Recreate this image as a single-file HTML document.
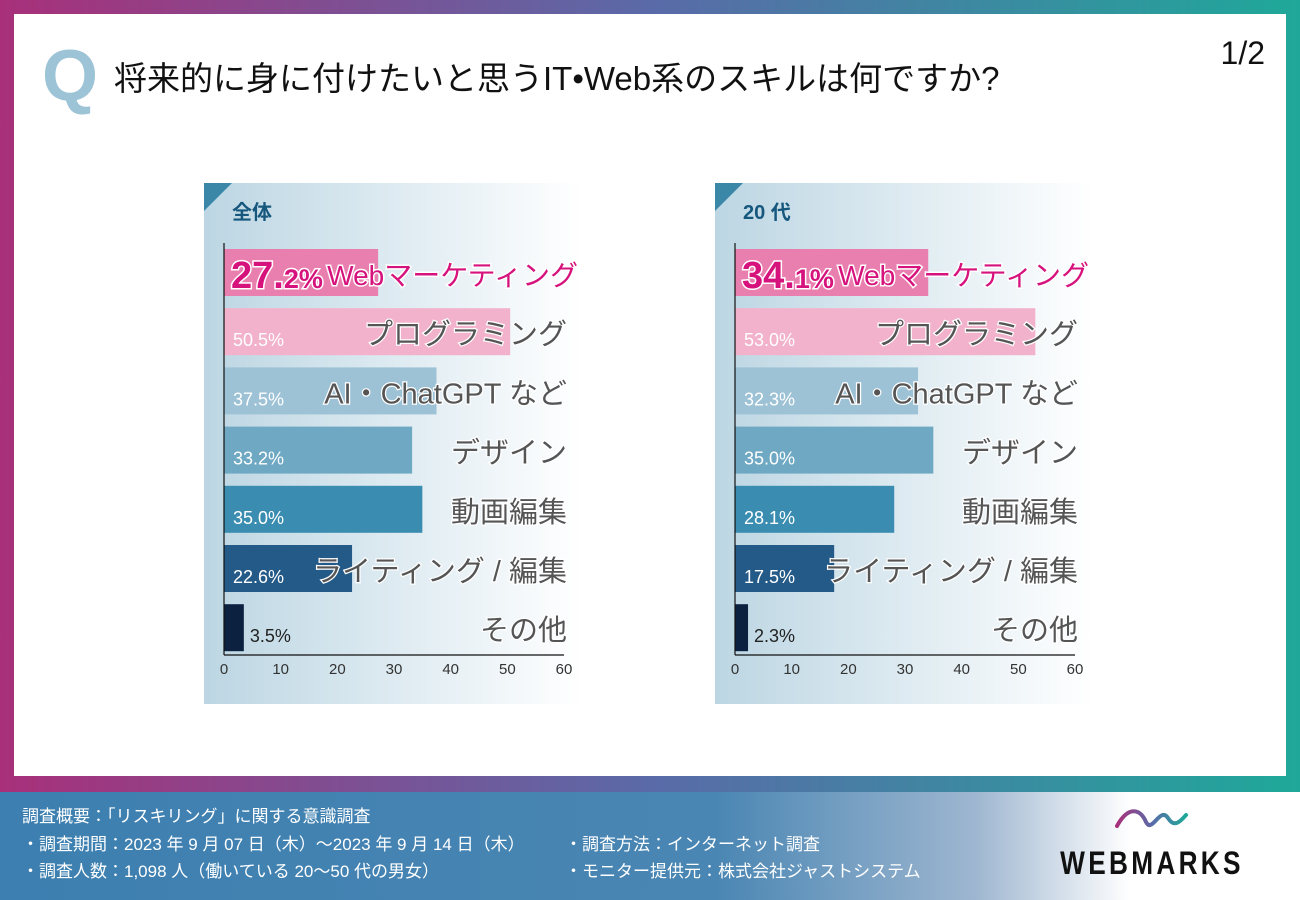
<!DOCTYPE html>
<html><head><meta charset="utf-8"><style>
html,body{margin:0;padding:0;width:1300px;height:900px;overflow:hidden;background:#fff}
svg text{font-family:"Liberation Sans","Noto Sans CJK JP",sans-serif}
</style></head><body>
<svg id="s" width="1300" height="900" viewBox="0 0 1300 900" xmlns="http://www.w3.org/2000/svg">
<defs>
<linearGradient id="bord" x1="0" x2="1" y1="0" y2="0"><stop offset="0" stop-color="#a8307a"/><stop offset="0.5" stop-color="#5a6aa8"/><stop offset="1" stop-color="#1fa89a"/></linearGradient>
<linearGradient id="foot" x1="0" x2="1" y1="0" y2="0"><stop offset="0" stop-color="#3c7fb0"/><stop offset="0.55" stop-color="#4a86b3"/><stop offset="0.75" stop-color="#9eb6d0"/><stop offset="0.87" stop-color="#ffffff"/><stop offset="1" stop-color="#ffffff"/></linearGradient>
<linearGradient id="pan" x1="0" x2="1" y1="0" y2="0"><stop offset="0" stop-color="#bcd6e3"/><stop offset="1" stop-color="#ffffff"/></linearGradient>
<linearGradient id="wave" x1="0" x2="1"><stop offset="0" stop-color="#a8307a"/><stop offset="0.5" stop-color="#5a6aa8"/><stop offset="1" stop-color="#1fa89a"/></linearGradient>
</defs>
<rect x="0" y="0" width="1300" height="792" fill="url(#bord)"/>
<rect x="14" y="14" width="1272" height="762" fill="#fff"/>
<rect x="0" y="792" width="1300" height="108" fill="url(#foot)"/>
<text x="42" y="100" font-size="72" fill="#9cc3d6" font-weight="bold">Q</text>
<text x="114" y="90" font-size="33" fill="#111">将来的に身に付けたいと思うIT•Web系のスキルは何ですか?</text>
<text x="1265" y="64" font-size="32" fill="#111" text-anchor="end">1/2</text>
<g id="charts"></g>
<g font-size="17" fill="#fff">
<text x="22" y="822">調査概要：「リスキリング」に関する意識調査</text>
<text x="22" y="850">・調査期間：2023 年 9 月 07 日（木）〜2023 年 9 月 14 日（木）</text>
<text x="22" y="877">・調査人数：1,098 人（働いている 20〜50 代の男女）</text>
<text x="565" y="850">・調査方法：インターネット調査</text>
<text x="565" y="877">・モニター提供元：株式会社ジャストシステム</text>
</g>
<path d="M1117,826 C1128,806 1140,808 1146,822 C1152,834 1160,806 1168,818 C1174,828 1180,822 1186,815" fill="none" stroke="url(#wave)" stroke-width="4" stroke-linecap="round"/>
<text x="1152" y="874" font-size="32" font-weight="bold" fill="#111" text-anchor="middle" letter-spacing="4" transform="translate(1152,0) scale(0.82,1) translate(-1152,0)">WEBMARKS</text>
</svg>
<script>
const categories=["Webマーケティング","プログラミング","AI・ChatGPT など","デザイン","動画編集","ライティング / 編集","その他"];
const valuesAll=[27.2,50.5,37.5,33.2,35.0,22.6,3.5];
const values20s=[34.1,53.0,32.3,35.0,28.1,17.5,2.3];
const ticks=[0,10,20,30,40,50,60];
const colors=["#e97fae","#f2b2cb","#9dc2d6","#6ea8c3","#3a8db0","#245a88","#0c213f"];
const NS="http://www.w3.org/2000/svg";
const g=document.getElementById('charts');
function el(t,a,p){const e=document.createElementNS(NS,t);for(const k in a)e.setAttribute(k,a[k]);(p||g).appendChild(e);return e;}
function chart(px,title,vals,key){
  const grp=el('g',{});
  
  
  const bg=el('rect',{x:px,y:183,width:378,height:521,fill:'url(#pan)'},grp);
  
  
  const tri=el('path',{d:`M${px},183 h28 l-28,28 z`,fill:'#3b87a8'},grp);
  
  
  const tt=el('text',{x:px+28,y:219,'font-size':20,'font-weight':'bold',fill:'#15577d'},grp);
  tt.textContent=title;
  
  
  const x0=px+20, sc=340/60;
  const xs=v=>x0+v*sc;
  vals.forEach((v,i)=>{
    const cy=273+i*59.2;
    const b=el('rect',{x:x0,y:cy-24,width:v*sc,height:47,fill:colors[i]},grp);
    
    
    let pt;
    if(i===0){
      pt=el('text',{x:x0+7,y:cy+15,fill:'#d6137c',stroke:'#fff','stroke-width':3,'paint-order':'stroke','font-weight':'bold','font-size':38},grp);
      const s=v.toFixed(1).split('.');
      const a=el('tspan',{},pt);a.textContent=s[0]+'.';
      const c=el('tspan',{'font-size':27},pt);c.textContent=s[1]+'%';
    } else {
      const inside=v*sc>60;
      pt=el('text',{x:inside?x0+9:xs(v)+6,y:cy+14,fill:inside?'#fff':'#222','font-size':18},grp);
      pt.textContent=v.toFixed(1)+'%';
    }
    
    
    const cl=el('text',{x:i===0?px+374:px+363,y:cy+12,'text-anchor':'end','font-size':i===0?28:29,fill:i===0?'#d6137c':'#555',stroke:'#fff','stroke-width':i===0?3:2.5,'paint-order':'stroke'},grp);
    cl.textContent=categories[i];
    
    
  });
  const ya=el('line',{x1:x0,y1:243,x2:x0,y2:655,stroke:'#111','stroke-width':1.2},grp);
  
  
  const xa=el('line',{x1:x0,y1:655,x2:xs(60),y2:655,stroke:'#111','stroke-width':1.2},grp);
  
  
  ticks.forEach(t=>{
    const tl=el('text',{x:xs(t),y:674,'text-anchor':'middle','font-size':15,fill:'#333'},grp);
    tl.textContent=t;
    
    
  });
}
chart(204,'全体',valuesAll,'all');
chart(715,'20 代',values20s,'20s');
</script>
</body></html>
